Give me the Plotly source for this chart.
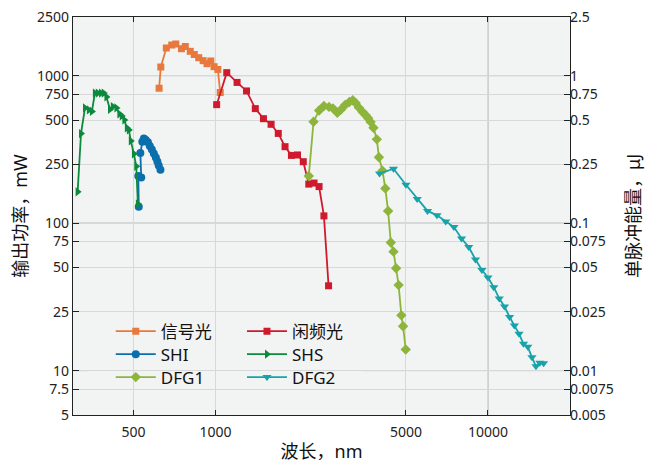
import math
import plotly.graph_objects as go

# ---------------- data ----------------
signal_nm = [621, 630, 660, 691, 715, 750, 775, 808, 836, 868, 901, 931, 961, 988, 1020, 1041]
signal_mw = [822, 1145, 1541, 1614, 1640, 1524, 1577, 1463, 1392, 1324, 1264, 1206, 1258, 1151, 1102, 769]

idler_nm = [1010, 1100, 1200, 1300, 1400, 1500, 1600, 1700, 1800, 1900, 2000, 2100, 2200, 2300, 2400, 2500, 2600]
idler_mw = [636, 1048, 900, 788, 598, 511, 468, 406, 330, 288, 290, 261, 184, 187, 177, 112, 37.6]

shi_nm = [523, 521, 534, 530, 539, 546, 555, 565, 574, 584, 594, 604, 612, 619, 628]
shi_mw = [129, 209, 204, 299, 356, 375, 367, 353, 334, 316, 297, 279, 262, 246, 230]

shs_nm = [312, 321, 332, 343, 352, 361, 370, 380, 389, 398, 410, 420, 433, 444, 453, 463, 473, 481, 489, 502, 512, 519]
shs_mw = [163, 405, 604, 586, 572, 763, 763, 763, 763, 717, 590, 618, 604, 550, 533, 501, 442, 429, 361, 295, 243, 135]

dfg1_nm = [2200, 2290, 2400, 2500, 2610, 2700, 2800, 2880, 2990, 3100, 3190, 3270, 3360, 3460, 3560, 3630, 3710,
           3800, 3910, 3980, 4100, 4200, 4300, 4400, 4500, 4600, 4700, 4810, 4880, 4990]
dfg1_mw = [209, 487, 581, 623, 614, 600, 561, 586, 633, 663, 682, 653, 607, 570, 539, 517, 486,
           444, 370, 280, 227, 172, 121, 73.9, 64.1, 49.4, 38.0, 23.7, 20.0, 13.9]

dfg2_nm = [4000, 4500, 5000, 5500, 6000, 6500, 7000, 7500, 8000, 8500, 9000, 9500, 10000, 10500, 11000, 11500,
           12000, 12500, 13000, 13500, 14000, 14500, 15000, 15500, 16000]
dfg2_mw = [217, 234, 182, 146, 121, 113, 102.5, 94, 78.6, 68.8, 56.7, 48.1, 42.8, 36.8, 30.8, 27.2,
           23.1, 20.2, 17.8, 15.2, 14.5, 12.3, 10.7, 11.3, 11.2]

x_ticks = [500, 1000, 5000, 10000]
x_ticktext = ["500", "1000", "5000", "10000"]
y_ticks = [5, 7.5, 10, 25, 50, 75, 100, 250, 500, 750, 1000, 2500]
y_ticktext = ["5", "7.5", "10", "25", "50", "75", "100", "250", "500", "750", "1000", "2500"]
y2_ticks = [0.005, 0.0075, 0.01, 0.025, 0.05, 0.075, 0.1, 0.25, 0.5, 0.75, 1, 2.5]
y2_ticktext = ["0.005", "0.0075", "0.01", "0.025", "0.05", "0.075", "0.1", "0.25", "0.5", "0.75", "1", "2.5"]

# pulse energy (uJ) = power (mW) / repetition rate (1 kHz)
rep_rate_khz = 1000.0

names = ["信号光", "闲频光", "SHI", "SHS", "DFG1", "DFG2"]
xs = [signal_nm, idler_nm, shi_nm, shs_nm, dfg1_nm, dfg2_nm]
ys = [signal_mw, idler_mw, shi_mw, shs_mw, dfg1_mw, dfg2_mw]
colors = ["#E8793E", "#CF1A2E", "#0B6FAE", "#0C8A3C", "#8DB53C", "#17A3AA"]
symbols = ["square", "square", "circle", "triangle-right", "diamond", "triangle-down"]
sizes = [7, 7, 8, 8, 8, 8]

FONT = "Noto Sans, Noto Sans CJK SC, sans-serif"
PLOT_BG = "#F2F3F3"

# legend grid: 2 columns x 3 rows, one legend per entry
legend_cols = [0.076, 0.340]
legend_rows = [0.2547, 0.1970, 0.1393]

fig = go.Figure()
legend_layout = {}
for i, (n, x, y, c, s, sz) in enumerate(zip(names, xs, ys, colors, symbols, sizes)):
    lg = "legend" if i == 0 else f"legend{i + 1}"
    fig.add_trace(go.Scatter(
        x=x, y=y, name=n, mode="lines+markers", legend=lg,
        line=dict(color=c, width=1.8),
        marker=dict(color=c, symbol=s, size=sz, line=dict(width=0)),
    ))
    legend_layout[lg] = dict(x=legend_cols[i % 2], y=legend_rows[i // 2], xanchor="left", yanchor="top",
                             bgcolor="rgba(0,0,0,0)", font=dict(size=17, color="#111111"), itemwidth=40)

# invisible twin of the DFG2 series on the energy axis so the right axis is drawn
fig.add_trace(go.Scatter(
    x=dfg2_nm, y=[v / rep_rate_khz for v in dfg2_mw], yaxis="y2", mode="lines",
    line=dict(width=0, color="rgba(0,0,0,0)"), showlegend=False, hoverinfo="skip",
))

shapes = []
for v in [1000, 10000]:
    shapes.append(dict(type="line", xref="x", yref="paper", x0=v, x1=v, y0=0, y1=1,
                       line=dict(color="#A9A9A9", width=1), layer="between"))
for v in [10, 100, 1000]:
    shapes.append(dict(type="line", xref="paper", yref="y", x0=0, x1=1, y0=v, y1=v,
                       line=dict(color="#A9A9A9", width=1), layer="between"))
# legend background box
shapes.append(dict(type="rect", xref="paper", yref="paper", x0=0.0302, x1=0.5815, y0=0.0364, y1=0.2796,
                   fillcolor=PLOT_BG, line=dict(width=0), layer="between"))

axis_common = dict(showline=True, linecolor="#222222", linewidth=1.2, ticks="inside", tickcolor="#222222",
                   zeroline=False, tickfont=dict(size=14), automargin=False, ticklabeloverflow="allow")

# the page body adds an 8px offset, so the figure is 8px smaller than the window
fig.update_layout(
    width=648, height=458,
    margin=dict(l=65, r=86, t=9, b=51),
    paper_bgcolor="white", plot_bgcolor=PLOT_BG,
    font=dict(family=FONT, size=14, color="#222222"),
    shapes=shapes,
    xaxis=dict(type="log", range=[math.log10(300), math.log10(20000)],
               tickvals=x_ticks, ticktext=x_ticktext, ticklabelstandoff=4,
               showgrid=True, gridcolor="#D8D8D8", gridwidth=1, mirror="ticks", ticklen=5,
               title=dict(text="波长，nm", font=dict(size=18, color="#111111"), standoff=5),
               **axis_common),
    yaxis=dict(type="log", range=[math.log10(5), math.log10(2500)],
               tickvals=y_ticks, ticktext=y_ticktext,
               showgrid=True, gridcolor="#D8D8D8", gridwidth=1, mirror=True, ticklen=6,
               title=dict(text="输出功率，mW", font=dict(size=18, color="#111111"), standoff=6),
               **axis_common),
    yaxis2=dict(type="log", range=[math.log10(0.005), math.log10(2.5)], overlaying="y", side="right",
                tickvals=y2_ticks, ticktext=y2_ticktext, showgrid=False, ticklen=6, ticklabelstandoff=-4,
                title=dict(text="单脉冲能量，μJ", font=dict(size=18, color="#111111"), standoff=14),
                **axis_common),
    **legend_layout,
)

fig.write_html("out.html")
